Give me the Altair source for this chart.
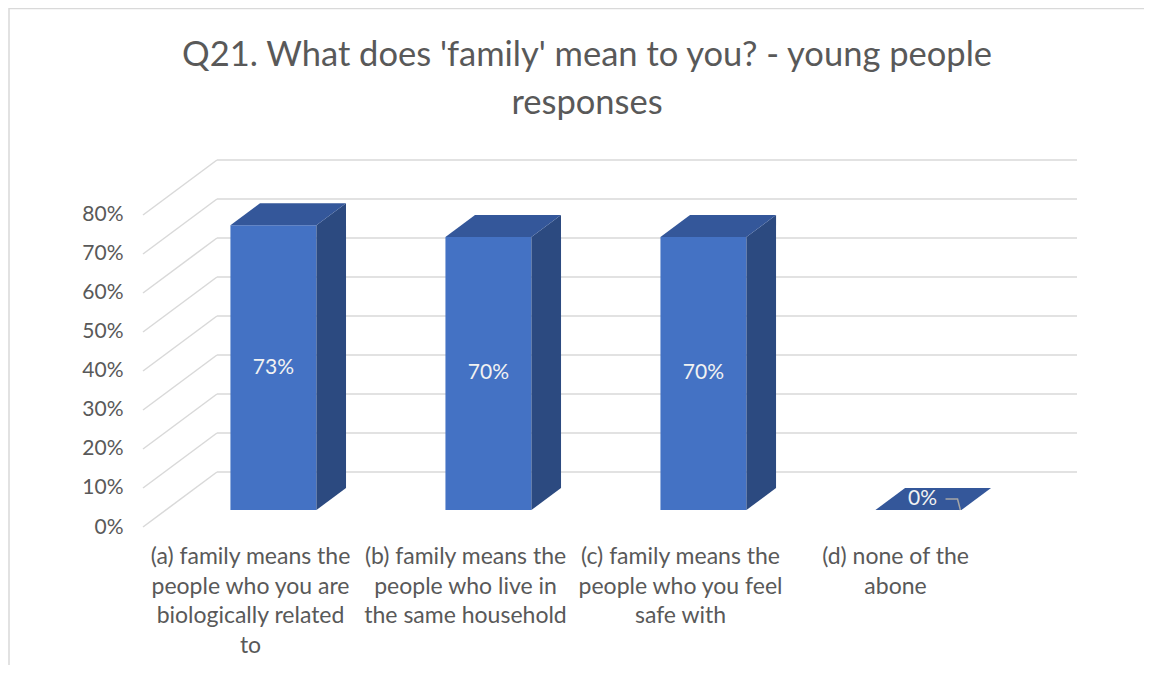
import altair as alt
import pandas as pd

# ---------------- data ----------------
categories = [
    "(a) family means the\npeople who you are\nbiologically related\nto",
    "(b) family means the\npeople who live in\nthe same household",
    "(c) family means the\npeople who you feel\nsafe with",
    "(d) none of the\nabone",
]
values = [0.73, 0.70, 0.70, 0.0]
value_labels = ["73%", "70%", "70%", "0%"]
tick_values = [0.0, 0.1, 0.2, 0.3, 0.4, 0.5, 0.6, 0.7, 0.8]
title_lines = ["Q21. What does 'family' mean to you? - young people", "responses"]

# ---------------- 3D geometry (data units) ----------------
DX = 0.344      # depth offset in category units
DY = 0.141      # depth offset in value units
F0, F1 = 0.31, 0.71   # front / back depth of the bars
BL, BR = 0.30, 0.70   # bar left/right within a category slot
N = len(categories)
XMAX = N + DX
YMAX = 0.8 + DY

FONT = "Lato"
GREY = "#595959"
GRID = "#d9d9d9"

xs = alt.Scale(domain=[0, XMAX], nice=False, zero=False)
ys = alt.Scale(domain=[0, YMAX], nice=False, zero=False)
y_axis = alt.Axis(values=tick_values, format=".0%", domain=False, ticks=False,
                  grid=False, labelPadding=20, labelFontSize=21, labelFont=FONT,
                  labelColor=GREY, title=None)


def X(f):
    return alt.X(f, type="quantitative", scale=xs, axis=None)


def Y(f):
    return alt.Y(f, type="quantitative", scale=ys, axis=y_axis)


# gridlines: back wall and left side wall
back = pd.DataFrame({"x": [DX] * len(tick_values), "x2": [N + DX] * len(tick_values),
                     "y": [t + DY for t in tick_values]})
side_wall = pd.DataFrame({"x": [0.0] * len(tick_values), "x2": [DX] * len(tick_values),
                          "y": tick_values, "y2": [t + DY for t in tick_values]})

# bar faces
front = pd.DataFrame({
    "x": [i + BL + F0 * DX for i in range(N)],
    "x2": [i + BR + F0 * DX for i in range(N)],
    "y": [F0 * DY] * N,
    "y2": [v + F0 * DY for v in values],
})
side_rows, top_rows = [], []
for i, v in enumerate(values):
    for f in (F0, F1):
        side_rows.append({"c": i, "x": i + BR + f * DX, "y": f * DY, "y2": v + f * DY})
        top_rows.append({"c": i, "y": v + f * DY, "x": i + BL + f * DX, "x2": i + BR + f * DX})
side = pd.DataFrame(side_rows)
top = pd.DataFrame(top_rows)

# value labels (+ leader line for labels sitting on a flat bar)
lab_rows, lead_rows = [], []
for i, (v, t) in enumerate(zip(values, value_labels)):
    if v > 0:
        lab_rows.append({"x": i + 0.5 + F0 * DX, "y": v / 2 + F0 * DY, "t": t})
    else:
        fm = (F0 + F1) / 2
        lx, ly = i + 0.5 + fm * DX - 0.05, fm * DY
        lab_rows.append({"x": lx, "y": ly, "t": t})
        lead_rows += [
            {"c": i, "o": 0, "x": lx + 0.107, "y": ly},
            {"c": i, "o": 1, "x": lx + 0.163, "y": ly},
            {"c": i, "o": 2, "x": i + BR + F0 * DX - 0.005, "y": v + F0 * DY},
        ]
labels = pd.DataFrame(lab_rows)
leaders = pd.DataFrame(lead_rows)

cats = pd.DataFrame({"x": [i + 0.5 for i in range(N)], "y": [0.0] * N, "t": categories})

frame = alt.Chart(pd.DataFrame({"a": [0]})).mark_rect(
    fill="transparent", stroke=GRID, strokeWidth=1.5
).encode(x=alt.value(-134), x2=alt.value(1300), y=alt.value(-151.5), y2=alt.value(900))

back_layer = alt.Chart(back).mark_rule(stroke=GRID, strokeWidth=1.5).encode(
    x=X("x"), x2="x2", y=Y("y")
)
side_layer = alt.Chart(side_wall).mark_rule(stroke=GRID, strokeWidth=1.5).encode(
    x=X("x"), x2="x2", y=Y("y"), y2="y2"
)
front_layer = alt.Chart(front).mark_rect(fill="#4472C4").encode(
    x=X("x"), x2="x2", y=Y("y"), y2="y2"
)
side_layer_bar = alt.Chart(side).mark_area(fill="#2C4A80", orient="vertical").encode(
    x=X("x"), y=Y("y"), y2="y2", detail="c:N"
)
top_layer = alt.Chart(top).mark_area(fill="#34579A", orient="horizontal").encode(
    y=Y("y"), x=X("x"), x2="x2", detail="c:N"
)
leader_layer = alt.Chart(leaders).mark_line(stroke="#A6A6A6", strokeWidth=1.5).encode(
    x=X("x"), y=Y("y"), order="o:Q", detail="c:N"
)
label_layer = alt.Chart(labels).mark_text(
    font=FONT, fontSize=21, color="#F2F2F2", baseline="middle", align="center"
).encode(x=X("x"), y=Y("y"), text="t:N")
cat_layer = alt.Chart(cats).mark_text(
    font=FONT, fontSize=23, color=GREY, baseline="middle", align="center",
    lineBreak="\n", lineHeight=29.5, dy=30
).encode(x=X("x"), y=Y("y"), text="t:N")

chart = alt.layer(
    back_layer, frame, side_layer, front_layer, side_layer_bar, top_layer,
    leader_layer, label_layer, cat_layer
).properties(
    width=934, height=367,
    background="white",
    autosize=alt.AutoSizeParams(type="none"),
    padding={"left": 135, "top": 152, "right": 67, "bottom": 138},
    title=alt.TitleParams(
        text=title_lines, anchor="middle", frame="group", dx=-23, dy=148,
        fontSize=34.5, font=FONT, fontWeight="normal", color=GREY, lineHeight=48,
        offset=0, baseline="bottom",
    ),
).configure_view(strokeWidth=0)

chart.save("out.html", embed_options={"renderer": "svg", "actions": False})
